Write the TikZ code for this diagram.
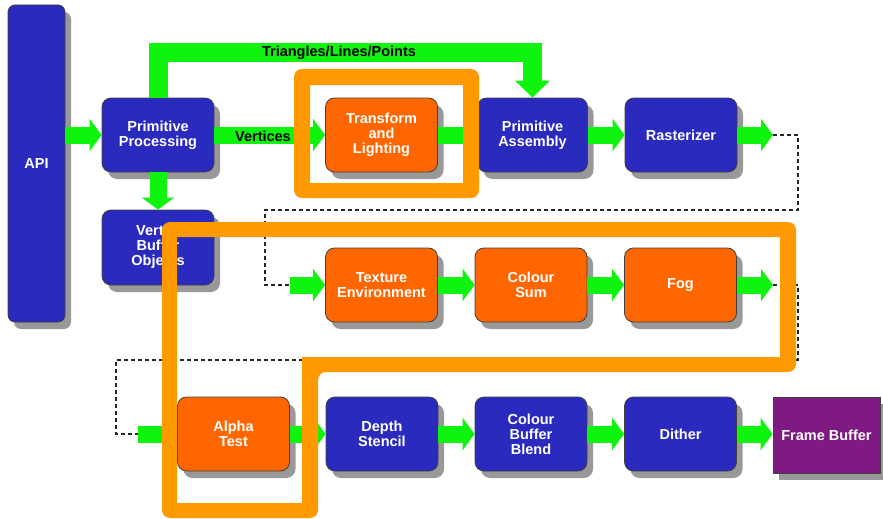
\documentclass[tikz,border=0pt]{standalone}
\usepackage{fontspec}
\setmainfont{Liberation Sans}
\usetikzlibrary{arrows.meta,shadows}
\definecolor{boxblue}{HTML}{2A2ABE}
\definecolor{boxorange}{HTML}{FF6600}
\definecolor{frameorange}{HTML}{FF9900}
\definecolor{arrowgreen}{HTML}{0FF40F}
\definecolor{fbpurple}{HTML}{7E1A82}
\newcommand\pfont{\fontsize{14.5pt}{15pt}\selectfont\bfseries}
\begin{document}
\begin{tikzpicture}[x=1pt,y=-1pt,
  box/.style={draw=black!75, line width=0.8pt, rounded corners=9pt,
    minimum width=112pt, minimum height=74pt, text=white, align=center,
    inner sep=0pt, font=\pfont,
    drop shadow={shadow xshift=6pt,shadow yshift=-7pt,fill=black!40,opacity=1}},
  bluebox/.style={box, fill=boxblue},
  orangebox/.style={box, fill=boxorange},
  garrow/.style={draw=arrowgreen, line width=17pt, -{Triangle[length=12pt,width=32pt]}},
  dashline/.style={draw=black!85, line width=1.3pt, dash pattern=on 4pt off 3pt},
  lbl/.style={font=\pfont, text=black, inner sep=0pt}
]
\useasboundingbox (0,0) rectangle (883,519);

% boxes
\node[bluebox, minimum width=57pt, minimum height=317pt, rounded corners=7pt] (api) at (36.5,163.5) {API};
\node[bluebox] (pp) at (158,135) {Primitive\\Processing};
\node[bluebox, minimum height=75pt] (vbo) at (158,247.5) {Vertex\\Buffer\\Objects};
\node[orangebox] (tl) at (381.5,135) {Transform\\and\\Lighting};
\node[bluebox, minimum width=110pt] (pa) at (532.5,135) {Primitive\\Assembly};
\node[bluebox] (ras) at (681,135) {Rasterizer};
\node[orangebox] (te) at (381.5,285) {Texture\\Environment};
\node[orangebox] (cs) at (531,285) {Colour\\Sum};
\node[orangebox] (fog) at (680.5,285) {Fog};
\node[orangebox] (at) at (233.5,434) {Alpha\\Test};
\node[bluebox] (ds) at (382,434) {Depth\\Stencil};
\node[bluebox] (cbb) at (531,434) {Colour\\Buffer\\Blend};
\node[bluebox] (dit) at (680.5,434) {Dither};
\node[box, fill=fbpurple, sharp corners, minimum width=107pt, minimum height=76pt] (fb) at (826.5,435) {Frame Buffer};

% coordinates
\coordinate (tlc) at (158,53);
\coordinate (trc) at (532.5,53);
\coordinate (r1) at (773,135);
\coordinate (r1a) at (798,135);
\coordinate (r1b) at (798,210);
\coordinate (r1c) at (265,210);
\coordinate (r1d) at (265,285);
\coordinate (r2) at (290,285);
\coordinate (f1) at (773,285);
\coordinate (f1a) at (798,285);
\coordinate (f1b) at (798,360);
\coordinate (f1c) at (116,360);
\coordinate (f1d) at (116,434);
\coordinate (a1) at (138,434);

% green arrows
\draw[garrow] (api.east |- pp) -- (pp.west);
\draw[garrow] (pp.south) -- (vbo.north);
\draw[garrow, line width=19pt, -{Triangle[length=17pt,width=34pt]}] (pp.north) -- (tlc) -- (trc) -- (pa.north);
\draw[garrow] (pp.east) -- (tl.west);
\draw[garrow] (tl.east) -- (pa.west);
\draw[garrow] (pa.east) -- (ras.west);
\draw[garrow] (ras.east) -- (r1);
\draw[garrow] (r2) -- (te.west);
\draw[garrow] (te.east) -- (cs.west);
\draw[garrow] (cs.east) -- (fog.west);
\draw[garrow] (fog.east) -- (f1);
\draw[garrow] (a1) -- (at.west);
\draw[garrow] (at.east) -- (ds.west);
\draw[garrow] (ds.east) -- (cbb.west);
\draw[garrow] (cbb.east) -- (dit.west);
\draw[garrow] (dit.east) -- (dit.east -| fb.west);

% labels
\node[lbl] (tlab) at (339,53) {Triangles/Lines/Points};
\node[lbl] (vlab) at (263,136) {Vertices};

% dashed connectors
\draw[dashline] (r1) -- (r1a) -- (r1b) -- (r1c) -- (r1d) -- (r2);
\draw[dashline] (f1) -- (f1a) -- (f1b) -- (f1c) -- (f1d) -- (a1);

% highlight frames
\fill[frameorange, even odd rule, rounded corners=8pt]
  (294,69) -- (479,69) -- (479,198) -- (294,198) -- cycle
  [sharp corners] (310,85) -- (463,85) -- (463,183) -- (310,183) -- cycle;
\fill[frameorange, even odd rule, rounded corners=8pt]
  (162,222) -- (796,222) -- (796,372) -- (318,372) -- (318,518) -- (162,518) -- cycle
  [sharp corners] (177,237) -- (780,237) -- (780,357) -- (302,357) -- (302,503) -- (177,503) -- cycle;
\end{tikzpicture}
\end{document}
